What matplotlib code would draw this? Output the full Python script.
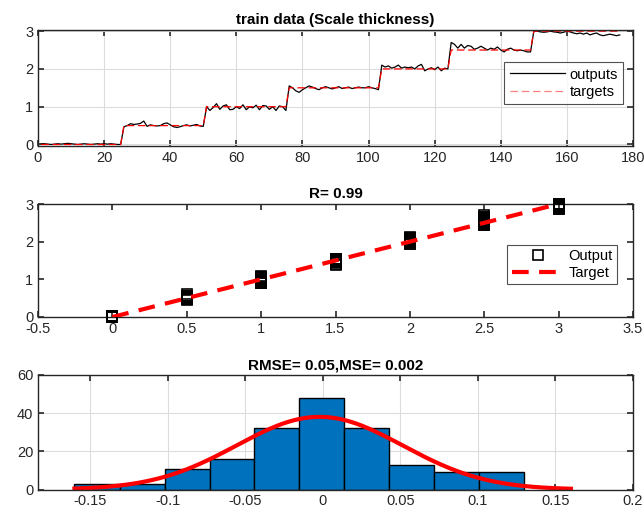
import numpy as np
import matplotlib
matplotlib.use("Agg")
import matplotlib.pyplot as plt

plt.rcParams['font.family'] = ['Liberation Sans', 'DejaVu Sans']

# ---------------- data ----------------
target_levels = [0.0, 0.5, 1.0, 1.5, 2.0, 2.5, 3.0]
target_counts = [25, 25, 25, 28, 21, 25, 27]

outputs_l0 = [0.01, 0.02, 0.01, 0.0, 0.01, 0.02, 0.01, 0.02, 0.03, 0.02, 0.01, 0.0,
              0.01, 0.02, 0.01, 0.0, 0.01, 0.02, 0.01, 0.02, 0.01, 0.02, 0.01, 0.0, 0.0]
outputs_l05 = [0.47, 0.5, 0.55, 0.53, 0.54, 0.56, 0.62, 0.48, 0.52, 0.5, 0.49, 0.5,
               0.55, 0.57, 0.52, 0.47, 0.45, 0.47, 0.5, 0.52, 0.49, 0.51, 0.53, 0.49, 0.48]
outputs_l1 = [1.0, 0.9, 0.98, 1.08, 0.93, 1.02, 1.05, 0.92, 0.93, 1.0, 0.95, 1.05,
              0.92, 1.0, 0.97, 1.04, 0.92, 1.03, 1.02, 0.93, 1.0, 0.9, 1.02, 1.0, 0.9]
outputs_l15 = [1.55, 1.5, 1.42, 1.38, 1.45, 1.5, 1.55, 1.52, 1.48, 1.45, 1.5, 1.53,
               1.5, 1.47, 1.5, 1.53, 1.48, 1.5, 1.52, 1.48, 1.5, 1.52, 1.5, 1.5,
               1.53, 1.5, 1.48, 1.45]
outputs_l2 = [2.1, 2.05, 2.08, 2.02, 2.05, 2.1, 2.02, 2.05, 2.03, 2.05, 2.0, 2.08,
              2.12, 1.95, 2.0, 2.03, 1.98, 2.05, 1.95, 2.02, 2.0]
outputs_l25 = [2.7, 2.65, 2.55, 2.65, 2.55, 2.62, 2.6, 2.52, 2.55, 2.6, 2.55, 2.5,
               2.55, 2.52, 2.58, 2.5, 2.45, 2.52, 2.55, 2.5, 2.48, 2.5, 2.48, 2.45, 2.45]
outputs_l3 = [3.0, 3.0, 2.98, 2.97, 2.98, 3.0, 2.98, 2.97, 2.95, 2.97, 3.0, 2.98,
              2.95, 2.93, 2.95, 2.92, 2.95, 2.9, 2.93, 2.95, 2.9, 2.88, 2.9, 2.92,
              2.9, 2.88, 2.9]

# histogram of errors
hist_edges = [-0.1603, -0.1307, -0.1017, -0.0727, -0.0446, -0.0152,
              0.0138, 0.0428, 0.0718, 0.1008, 0.1298]
hist_counts = [3, 3, 11, 16, 32, 48, 32, 13, 9, 9]
fit_mu = -0.002
fit_sigma = 0.0535
fit_range = [-0.16, 0.16]

title1 = 'train data (Scale thickness)'
title2 = 'R= 0.99'
title3 = 'RMSE= 0.05,MSE= 0.002'

# ---------------- derived ----------------
targets = np.repeat(target_levels, target_counts)
outputs = np.array(outputs_l0 + outputs_l05 + outputs_l1 + outputs_l15 +
                   outputs_l2 + outputs_l25 + outputs_l3)
xs = np.arange(1, len(targets) + 1)

fig = plt.figure(figsize=(6.44, 5.15), dpi=100)

AX_COL = '#262626'
GRID_COL = '#dcdcdc'


def style(ax):
    ax.grid(True, color=GRID_COL, linewidth=0.8)
    ax.set_axisbelow(True)
    for s in ax.spines.values():
        s.set_color(AX_COL)
        s.set_linewidth(1.0)
    ax.tick_params(direction='in', top=True, right=True, length=4, width=1.2,
                   colors=AX_COL, labelsize=10.5, labelcolor='#262626')


# ---- panel 1 ----
ax1 = fig.add_axes([38 / 644, 1 - 146 / 515, 595 / 644, 116 / 515])
ax1.plot(xs, outputs, color='black', linewidth=0.9, label='outputs')
ax1.plot(xs, targets, color='#ff0000', linestyle=(0, (6, 3)), linewidth=0.9,
         label='targets')
ax1.set_xlim(0, 180)
ax1.set_ylim(-0.04, 3.03)
ax1.set_xticks(np.arange(0, 181, 20))
ax1.set_yticks([0, 1, 2, 3])
style(ax1)
ax1.set_title(title1, fontsize=11, fontweight='bold', pad=4)
leg1 = ax1.legend(loc='upper left', bbox_to_anchor=(0.784, 0.72), fontsize=10.5,
                  frameon=True, fancybox=False, edgecolor=AX_COL,
                  handlelength=3.8, borderpad=0.35, labelspacing=0.25,
                  handletextpad=0.3, borderaxespad=0)
leg1.get_frame().set_linewidth(0.8)
leg1.get_lines()[1].set_color('#ff8080')

# ---- panel 2 ----
ax2 = fig.add_axes([38 / 644, 1 - 317 / 515, 595 / 644, 113 / 515])
ax2.plot(targets, outputs, linestyle='none', marker='s', markersize=6.5,
         markerfacecolor='none', markeredgecolor='black', markeredgewidth=1.2,
         label='Output', clip_on=False, zorder=3)
ax2.plot([min(target_levels), max(target_levels)],
         [min(target_levels), max(target_levels)], color='#ff0000',
         linestyle=(0, (4, 2.5)), linewidth=3, label='Target', zorder=4)
ax2.set_xlim(-0.5, 3.5)
ax2.set_ylim(0, 3)
ax2.set_xticks(np.arange(-0.5, 3.51, 0.5))
ax2.set_xticklabels(['-0.5', '0', '0.5', '1', '1.5', '2', '2.5', '3', '3.5'])
ax2.set_yticks([0, 1, 2, 3])
style(ax2)
ax2.grid(False)
ax2.set_title(title2, fontsize=11, fontweight='bold', pad=4)
leg2 = ax2.legend(loc='upper left', bbox_to_anchor=(0.789, 0.64), fontsize=10.5,
                  frameon=True, fancybox=False, edgecolor=AX_COL,
                  handlelength=3.6, borderpad=0.3, labelspacing=0.2,
                  handletextpad=0.3, borderaxespad=0, markerscale=1.1)
leg2.get_frame().set_linewidth(0.8)

# ---- panel 3 ----
ax3 = fig.add_axes([38 / 644, 1 - 489.5 / 515, 595 / 644, 114.5 / 515])
edges = np.array(hist_edges)
ax3.bar(edges[:-1], hist_counts, width=np.diff(edges), align='edge',
        color='#0072BD', edgecolor='black', linewidth=1.0)
xf = np.linspace(fit_range[0], fit_range[1], 300)
binw = np.mean(np.diff(edges))
yf = sum(hist_counts) * binw / (fit_sigma * np.sqrt(2 * np.pi)) * \
    np.exp(-0.5 * ((xf - fit_mu) / fit_sigma) ** 2)
ax3.plot(xf, yf, color='#ff0000', linewidth=3)
ax3.set_xlim(-0.1835, 0.2)
ax3.set_ylim(0, 60)
ax3.set_xticks([-0.15, -0.1, -0.05, 0, 0.05, 0.1, 0.15, 0.2])
ax3.set_xticklabels(['-0.15', '-0.1', '-0.05', '0', '0.05', '0.1', '0.15', '0.2'])
ax3.set_yticks([0, 20, 40, 60])
style(ax3)
ax3.set_title(title3, fontsize=11, fontweight='bold', pad=4)

fig.savefig('out.png', dpi=100)
